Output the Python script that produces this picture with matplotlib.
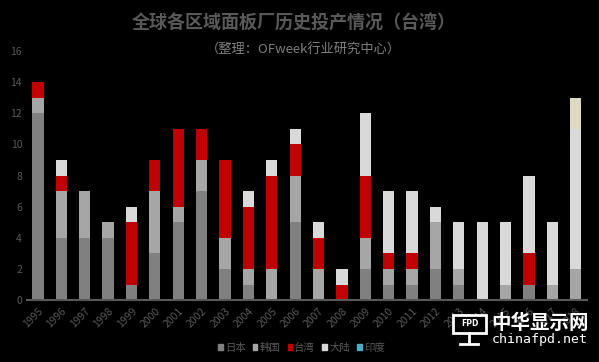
import numpy as np
import matplotlib.pyplot as plt
from matplotlib.patches import Patch, Rectangle
from matplotlib.lines import Line2D

plt.rcParams['font.family'] = ['Noto Sans CJK SC', 'DejaVu Sans']

years = [str(y) for y in range(1995, 2019)]
japan = [12, 4, 4, 4, 1, 3, 5, 7, 2, 1, 0, 5, 0, 0, 2, 1, 1, 2, 1, 0, 0, 1, 0, 0]
korea = [1, 3, 3, 1, 0, 4, 1, 2, 2, 1, 2, 3, 2, 0, 2, 1, 1, 3, 1, 0, 1, 0, 1, 2]
taiwan = [1, 1, 0, 0, 4, 2, 5, 2, 5, 4, 6, 2, 2, 1, 4, 1, 1, 0, 0, 0, 0, 2, 0, 0]
china = [0, 1, 0, 0, 1, 0, 0, 0, 0, 1, 1, 1, 1, 1, 4, 4, 4, 1, 3, 5, 4, 5, 4, 9]
india = [0] * 23 + [2]

series = [('日本', japan, '#808080'), ('韩国', korea, '#a6a6a6'),
          ('台湾', taiwan, '#c00000'), ('大陆', china, '#d9d9d9'),
          ('印度', india, '#ddd9c3')]
legend_colors = ['#808080', '#a6a6a6', '#c00000', '#d9d9d9', '#4bacc6']

fig = plt.figure(figsize=(5.99, 3.62), dpi=100, facecolor='black')
ax = fig.add_axes([0.045, 0.171, 0.935, 0.688], facecolor='black')

x = np.arange(len(years))
bottom = np.zeros(len(years))
for name, vals, col in series:
    ax.bar(x, vals, 0.48, bottom=bottom, color=col, edgecolor='none')
    bottom += np.array(vals)

ax.set_xlim(-0.47, 23.48)
ax.set_ylim(0, 16)
ax.set_yticks(range(0, 17, 2))
ax.set_xticks(x)
ax.set_xticklabels(years, rotation=45, ha='right', rotation_mode='anchor')
ax.tick_params(axis='both', colors='#595959', labelsize=7.5, length=0)
ax.tick_params(axis='x', pad=4)
for s in ['top', 'right', 'left']:
    ax.spines[s].set_visible(False)
ax.spines['bottom'].set_color('#595959')
ax.spines['bottom'].set_linewidth(1.5)

fig.text(0.49, 0.936, '全球各区域面板厂历史投产情况（台湾）', color='#595959',
         fontsize=13, fontweight='bold', ha='center', va='center')
fig.text(0.507, 0.862, '（整理：OFweek行业研究中心）', color='#7f7f7f',
         fontsize=9.5, ha='center', va='center')

handles = [Patch(color=c, label=n) for (n, _, _), c in zip(series, legend_colors)]
fig.legend(handles=handles, loc='center', bbox_to_anchor=(0.503, 0.039), ncol=5,
           frameon=False, fontsize=7.5, labelcolor='#595959', handlelength=0.45,
           handleheight=0.45, handletextpad=0.2, columnspacing=0.7)

# watermark
W, H = 599.0, 362.0
fig.add_artist(Rectangle((453 / W, 1 - 333 / H), 33 / W, 18 / H, transform=fig.transFigure,
                         fc='black', ec='white', lw=2))
fig.add_artist(Line2D([469 / W, 469 / W], [1 - 333 / H, 1 - 343 / H],
                      transform=fig.transFigure, color='white', lw=2))
fig.add_artist(Line2D([460 / W, 478 / W], [1 - 344 / H, 1 - 344 / H],
                      transform=fig.transFigure, color='white', lw=2))
fig.text(469.5 / W, 1 - 324 / H, 'FPD', color='white', fontsize=5.5, fontweight='bold',
         ha='center', va='center', family='DejaVu Sans')
fig.text(540 / W, 1 - 323 / H, '中华显示网', color='white', fontsize=14, fontweight='bold',
         ha='center', va='center')
fig.text(540 / W, 1 - 340 / H, 'chinafpd.net', color='white', fontsize=9.5,
         ha='center', va='center', family='DejaVu Sans Mono')

fig.savefig('out.png', dpi=100, facecolor='black')
